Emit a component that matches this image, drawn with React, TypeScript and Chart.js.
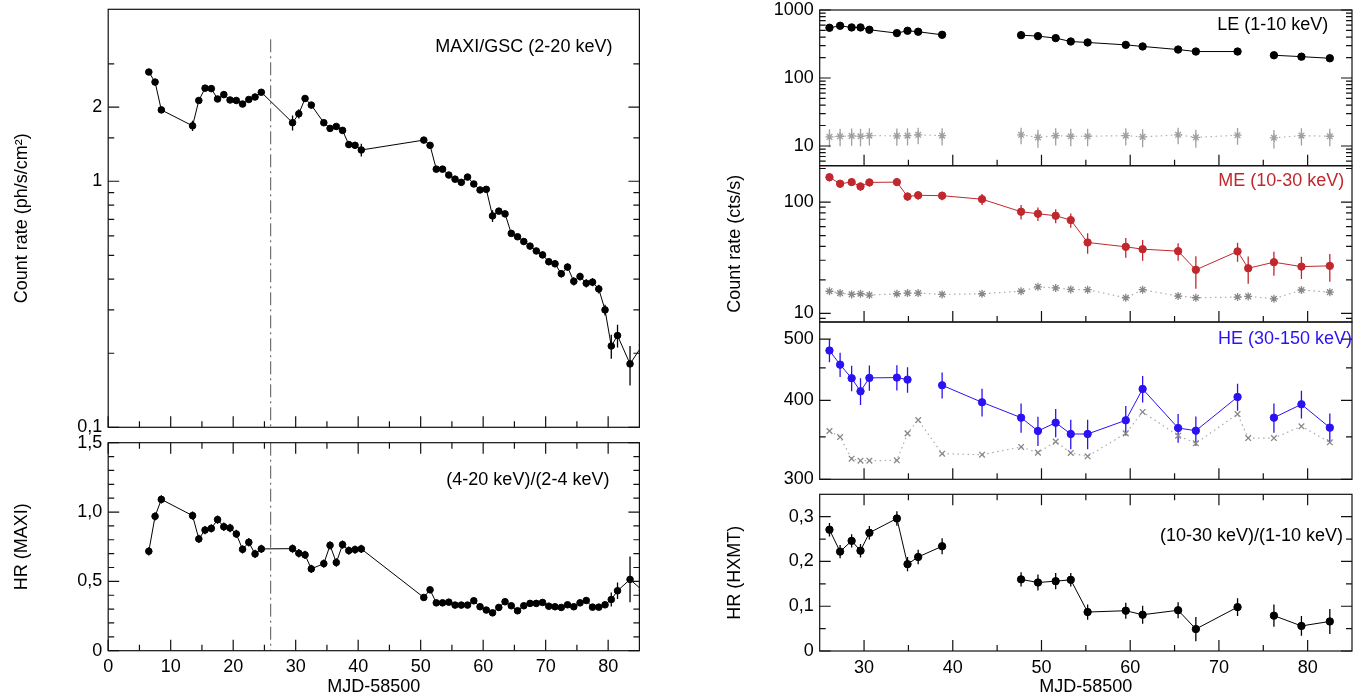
import React, { useEffect, useRef } from "react";
import { Chart, registerables } from "chart.js";

Chart.register(...registerables);

const FONT = "'Liberation Sans', Arial, Helvetica, sans-serif";
Chart.defaults.font.family = FONT;
Chart.defaults.font.size = 18;
Chart.defaults.color = "#000";

// ===== MAXI/GSC (left column) =====
const maxiDays = [6.5, 7.5, 8.5, 13.5, 14.5, 15.5, 16.5, 17.5, 18.5, 19.5, 20.5, 21.5, 22.5, 23.5, 24.5,
  29.5, 30.5, 31.5, 32.5, 34.5, 35.5, 36.5, 37.5, 38.5, 39.5, 40.5,
  50.5, 51.5, 52.5, 53.5, 54.5, 55.5, 56.5, 57.5, 58.5, 59.5, 60.5, 61.5, 62.5, 63.5, 64.5, 65.5,
  66.5, 67.5, 68.5, 69.5, 70.5, 71.5, 72.5, 73.5, 74.5, 75.5, 76.5, 77.5, 78.5, 79.5, 80.5, 81.5,
  83.5, 85.5];
const maxiRate = [2.78, 2.53, 1.95, 1.68, 2.13, 2.39, 2.38, 2.16, 2.25, 2.14, 2.13, 2.06, 2.15, 2.20, 2.30,
  1.73, 1.88, 2.17, 2.04, 1.73, 1.64, 1.67, 1.61, 1.41, 1.40, 1.34,
  1.47, 1.40, 1.12, 1.12, 1.06, 1.02, 0.99, 1.04, 0.975, 0.922, 0.927, 0.723, 0.756, 0.737, 0.614, 0.595,
  0.569, 0.545, 0.521, 0.502, 0.471, 0.462, 0.421, 0.448, 0.392, 0.410, 0.385, 0.389, 0.365, 0.300, 0.214, 0.236,
  0.181, 0.216];
const maxiRateErr = [0.05, 0.05, 0.04, 0.08, 0.05, 0.05, 0.05, 0.05, 0.05, 0.05, 0.05, 0.05, 0.05, 0.05, 0.06,
  0.12, 0.08, 0.06, 0.05, 0.04, 0.04, 0.04, 0.04, 0.04, 0.04, 0.08,
  0.03, 0.03, 0.02, 0.02, 0.02, 0.02, 0.02, 0.02, 0.02, 0.02, 0.02, 0.04, 0.02, 0.02, 0.015, 0.015,
  0.015, 0.015, 0.015, 0.015, 0.015, 0.015, 0.015, 0.015, 0.015, 0.015, 0.015, 0.015, 0.015, 0.015, 0.024, 0.025,
  0.033, 0.03];
const maxiHR = [0.717, 0.969, 1.091, 0.974, 0.806, 0.870, 0.882, 0.945, 0.894, 0.885, 0.842, 0.731, 0.782, 0.698, 0.734,
  0.736, 0.703, 0.691, 0.590, 0.628, 0.760, 0.636, 0.765, 0.722, 0.729, 0.734,
  0.384, 0.439, 0.345, 0.345, 0.350, 0.329, 0.329, 0.329, 0.360, 0.317, 0.293, 0.273, 0.312, 0.353, 0.324, 0.288,
  0.324, 0.341, 0.341, 0.348, 0.321, 0.317, 0.312, 0.331, 0.317, 0.345, 0.362, 0.314, 0.314, 0.331, 0.369, 0.432,
  0.514, 0.434];
const maxiHRErr = [0.03, 0.03, 0.03, 0.03, 0.03, 0.03, 0.03, 0.03, 0.03, 0.03, 0.03, 0.03, 0.03, 0.03, 0.03,
  0.03, 0.03, 0.03, 0.03, 0.03, 0.03, 0.03, 0.03, 0.03, 0.03, 0.03,
  0.02, 0.02, 0.02, 0.02, 0.02, 0.02, 0.02, 0.02, 0.02, 0.02, 0.02, 0.02, 0.02, 0.02, 0.02, 0.02,
  0.02, 0.02, 0.02, 0.02, 0.02, 0.02, 0.02, 0.02, 0.02, 0.02, 0.02, 0.02, 0.02, 0.02, 0.05, 0.06,
  0.165, 0.1];

// ===== Insight-HXMT (right column) =====
const hxmtDays = [26.1, 27.3, 28.6, 29.6, 30.6, 33.7, 34.9, 36.1, 38.8, 47.7, 49.6, 51.6, 53.3, 55.2,
  59.5, 61.4, 65.4, 67.4, 72.1, 76.2, 79.3, 82.5];
const leRate = [548, 586, 554, 554, 512, 457, 495, 479, 432, 427, 413, 386, 344, 333,
  307, 291, 262, 245, 245, 216, 206, 195];
const leBkg = [13.6, 13.9, 14.1, 13.9, 14.2, 14.1, 14.2, 14.6, 14.2, 14.6, 13.4, 14.2, 13.9, 13.9,
  14.2, 13.6, 14.6, 13.4, 14.4, 13.2, 14.2, 13.9];
const leBkgErr = [4, 4, 4, 4, 4, 4, 4, 4, 4, 4, 4, 4, 4, 4, 4, 4, 4, 4, 4, 4, 4, 4];
const hxmtHR = [0.271, 0.222, 0.246, 0.224, 0.264, 0.296, 0.194, 0.210, 0.234, 0.160, 0.153, 0.156, 0.159, 0.087,
  0.090, 0.081, 0.091, 0.049, 0.098, 0.079, 0.056, 0.066];
const hxmtHRErr = [0.015, 0.015, 0.015, 0.015, 0.015, 0.016, 0.016, 0.016, 0.018, 0.016, 0.018, 0.018, 0.015, 0.017,
  0.018, 0.02, 0.018, 0.027, 0.02, 0.025, 0.022, 0.028];

const meDays = [26.1, 27.3, 28.6, 29.6, 30.6, 33.7, 34.9, 36.1, 38.8, 43.3, 47.7, 49.6, 51.6, 53.3, 55.2,
  59.5, 61.4, 65.4, 67.4, 72.1, 73.3, 76.2, 79.3, 82.5];
const meRate = [167, 146, 151, 138, 150, 151, 112, 115, 114, 106, 81.8, 78.5, 75.3, 68.8, 43.3,
  39.6, 37.7, 36.2, 24.6, 36.0, 25.4, 28.8, 26.3, 26.7];
const meRateErr = [14, 12, 12, 12, 12, 11, 10, 10, 10, 12, 12, 11, 11, 10, 9,
  8, 8, 6.5, 8, 7, 7, 7, 6, 7.5];
const meBkg = [15.8, 15.2, 14.8, 15.0, 14.6, 15.0, 15.2, 15.2, 14.8, 15.0, 15.8, 17.3, 16.9, 16.4, 16.3,
  13.8, 16.3, 14.3, 13.8, 14.0, 14.2, 13.5, 16.2, 15.5];

const heDays = [26.1, 27.3, 28.6, 29.6, 30.6, 33.7, 34.9, 38.8, 43.3, 47.7, 49.6, 51.6, 53.3, 55.2,
  59.5, 61.4, 65.4, 67.4, 72.1, 76.2, 79.3, 82.5];
const heRate = [479.5, 455.5, 433.5, 413.3, 434, 434.5, 431.3, 422.5, 397.1, 375.5, 357.7, 368.7, 353.8, 353.8,
  371.9, 416.9, 361.6, 358.1, 404.9, 375.5, 394.2, 362.1];
const heRateErr = [20, 20, 20, 20, 20, 20, 20, 20, 20, 20, 19, 19, 19, 19, 20, 20, 19, 19, 20, 20, 20, 19];
const heBkgDays = [26.1, 27.3, 28.6, 29.6, 30.6, 33.7, 34.9, 36.1, 38.8, 43.3, 47.7, 49.6, 51.6, 53.3, 55.2,
  59.5, 61.4, 65.4, 67.4, 72.1, 73.3, 76.2, 79.3, 82.5];
const heBkg = [357.7, 349.9, 323.4, 321.0, 321.0, 321.5, 354.6, 372.3, 329.3, 328.1, 337.5, 330.6, 344.1, 330.2, 326.2,
  354.6, 383.4, 351.6, 342.0, 380.5, 348.6, 348.6, 363.9, 343.3];

// observation gaps (no connecting line)
const hxmtGaps = [[38.8, 47.7], [72.1, 76.2]];
const heGaps = [[34.9, 38.8], [72.1, 76.2]];

// ===== ticks =====
const maxiDayLabels = [0, 10, 20, 30, 40, 50, 60, 70, 80];
const maxiDayMinor = [5, 15, 25, 35, 45, 55, 65, 75];
const hxmtDayLabels = [30, 40, 50, 60, 70, 80];
const hxmtDayMinor = [35, 45, 55, 65, 75];
const rateLabels = [0.1, 1, 2];
const rateMinor = [0.2, 0.3, 0.4, 0.5, 0.6, 0.7, 0.8, 0.9, 1.5, 3];
const maxiHRLabels = [0, 0.5, 1.0, 1.5];
const maxiHRMinor = [0.1, 0.2, 0.3, 0.4, 0.6, 0.7, 0.8, 0.9, 1.1, 1.2, 1.3, 1.4];
const leLabels = [10, 100, 1000];
const leMinor = [6, 7, 8, 9, 20, 30, 40, 50, 60, 70, 80, 90, 200, 300, 400, 500, 600, 700, 800, 900];
const meLabels = [10, 100];
const meMinor = [9, 20, 30, 40, 50, 60, 70, 80, 90, 200];
const heLabels = [300, 400, 500];
const heMinor = [350, 450];
const hxHRLabels = [0, 0.1, 0.2, 0.3];
const hxHRMinor = [0.05, 0.15, 0.25];

const RED = "#c0282d";
const BLUE = "#2b12f2";

const comma = (v: number) => (v === 0 ? "0" : String(v).replace(".", ","));
const comma1 = (v: number) => (v === 0 ? "0" : v.toFixed(1).replace(".", ","));

function pts(xs: number[], ys: number[]) {
  return xs.map((x, i) => ({ x, y: ys[i] }));
}
function gapSegment(gaps: number[][]) {
  return {
    borderColor: (ctx: any) => {
      const a = ctx.p0.parsed.x, b = ctx.p1.parsed.x;
      return gaps.some((g) => a <= g[0] + 1e-6 && b >= g[1] - 1e-6) ? "rgba(0,0,0,0)" : undefined;
    },
  };
}
function dotSeries(xs: number[], ys: number[], color: string, r: number, errs?: number[], gaps?: number[][]) {
  return {
    data: pts(xs, ys), errors: errs, errorColor: color,
    borderColor: color, backgroundColor: color, borderWidth: 1, tension: 0,
    pointStyle: "circle", pointRadius: r, pointBackgroundColor: color, pointBorderColor: color, pointBorderWidth: 1,
    segment: gaps ? gapSegment(gaps) : undefined,
  };
}
function bkgSeries(xs: number[], ys: number[], style: string, mark: string, line: string, errs?: number[], gaps?: number[][]) {
  return {
    data: pts(xs, ys), errors: errs, errorColor: mark,
    borderColor: line, borderWidth: 1.2, borderDash: [1.5, 3.5], tension: 0,
    pointStyle: style, pointRadius: 4, pointBorderColor: mark, pointBackgroundColor: mark, pointBorderWidth: 1.3,
    segment: gaps ? gapSegment(gaps) : undefined,
  };
}

type Spec = {
  box: { x: number; y: number; w: number; h: number };
  area: { left: number; top: number; right: number; bottom: number };
  xMin: number; xMax: number; xLabels: number[]; xMinor: number[]; showX: boolean; xTitle?: string;
  yType: string; yMin: number; yMax: number; yLabels: number[]; yMinor: number[]; yFmt: (v: number) => string;
  yTitle?: string; yTitlePad?: number;
  topTicks: boolean; vline?: number; vlineStart?: number;
  texts: { text: string; dx: number; dy: number; align: "left" | "right"; color: string; fromLeft?: boolean }[];
  datasets: any[];
};

function makeFrame(p: Spec) {
  return {
    id: "frame",
    beforeDatasetsDraw(chart: any) {
      const { ctx, chartArea: a } = chart;
      const xs = chart.scales.x, ys = chart.scales.y;
      ctx.save();
      ctx.beginPath();
      ctx.rect(a.left, a.top, a.right - a.left, a.bottom - a.top);
      ctx.clip();
      if (p.vline !== undefined) {
        const px = xs.getPixelForValue(p.vline);
        ctx.strokeStyle = "#555";
        ctx.lineWidth = 1;
        ctx.setLineDash([13, 4, 2, 4]);
        ctx.beginPath();
        ctx.moveTo(px, a.top + (p.vlineStart ?? 0));
        ctx.lineTo(px, a.bottom);
        ctx.stroke();
        ctx.setLineDash([]);
      }
      chart.data.datasets.forEach((ds: any) => {
        if (!ds.errors) return;
        ctx.strokeStyle = ds.errorColor;
        ctx.lineWidth = 1.3;
        ctx.beginPath();
        ds.data.forEach((pt: any, i: number) => {
          const e = ds.errors[i];
          if (pt.y == null || e == null) return;
          const px = xs.getPixelForValue(pt.x);
          ctx.moveTo(px, ys.getPixelForValue(pt.y - e));
          ctx.lineTo(px, ys.getPixelForValue(pt.y + e));
        });
        ctx.stroke();
      });
      ctx.restore();
    },
    afterDatasetsDraw(chart: any) {
      const { ctx, chartArea: a } = chart;
      const xs = chart.scales.x, ys = chart.scales.y;
      ctx.save();
      ctx.strokeStyle = "#111";
      ctx.lineWidth = 1.2;
      ctx.setLineDash([]);
      ctx.beginPath();
      const xt = (vals: number[], len: number) =>
        vals.forEach((v) => {
          const px = xs.getPixelForValue(v);
          ctx.moveTo(px, a.bottom);
          ctx.lineTo(px, a.bottom - len);
          if (p.topTicks) {
            ctx.moveTo(px, a.top);
            ctx.lineTo(px, a.top + len);
          }
        });
      const yt = (vals: number[], len: number) =>
        vals.forEach((v) => {
          const py = ys.getPixelForValue(v);
          ctx.moveTo(a.left, py);
          ctx.lineTo(a.left + len, py);
          ctx.moveTo(a.right, py);
          ctx.lineTo(a.right - len, py);
        });
      xt(p.xLabels, 11);
      xt(p.xMinor, 6);
      yt(p.yLabels, 11);
      yt(p.yMinor, 6);
      ctx.stroke();
      ctx.strokeRect(a.left, a.top, a.right - a.left, a.bottom - a.top);
      ctx.beginPath();
      ctx.rect(a.left, a.top, a.right - a.left, a.bottom - a.top);
      ctx.clip();
      ctx.font = `18px ${FONT}`;
      ctx.textBaseline = "middle";
      p.texts.forEach((t) => {
        ctx.fillStyle = t.color;
        ctx.textAlign = t.align;
        const x = t.fromLeft ? a.left + t.dx : a.right - t.dx;
        ctx.fillText(t.text, x, a.top + t.dy);
      });
      ctx.restore();
    },
  };
}

function zeroPad(s: any) {
  s.paddingTop = 0;
  s.paddingBottom = 0;
  s.paddingLeft = 0;
  s.paddingRight = 0;
}

function buildConfig(p: Spec): any {
  const { box, area } = p;
  const padTop = area.top - box.y;
  const padRight = box.x + box.w - area.right;
  const yW = area.left - box.x;
  const xH = box.y + box.h - area.bottom;
  return {
    type: "line",
    data: { datasets: p.datasets },
    options: {
      animation: false,
      responsive: false,
      devicePixelRatio: 1,
      events: [],
      layout: { autoPadding: false, padding: { left: 0, top: padTop, right: padRight, bottom: p.showX ? 0 : xH } },
      plugins: { legend: { display: false }, tooltip: { enabled: false } },
      scales: {
        x: {
          type: "linear", min: p.xMin, max: p.xMax, display: p.showX,
          grid: { display: false, drawTicks: false }, border: { display: false },
          ticks: { padding: 6, autoSkip: false, maxRotation: 0, color: "#000", font: { size: 18 }, callback: (v: number) => String(v) },
          afterBuildTicks: (s: any) => { s.ticks = p.xLabels.map((v) => ({ value: v })); },
          afterFit: (s: any) => { s.height = p.showX ? xH : 0; zeroPad(s); },
          title: { display: !!p.xTitle, text: p.xTitle, color: "#000", font: { size: 18 }, padding: { top: 0, bottom: 2 } },
        },
        y: {
          type: p.yType, min: p.yMin, max: p.yMax,
          grid: { display: false, drawTicks: false }, border: { display: false },
          ticks: { padding: 6, autoSkip: false, color: "#000", font: { size: 18 }, callback: (v: number) => p.yFmt(v) },
          afterBuildTicks: (s: any) => { s.ticks = p.yLabels.map((v) => ({ value: v })); },
          afterFit: (s: any) => { s.width = yW; zeroPad(s); },
          title: { display: !!p.yTitle, text: p.yTitle, color: "#000", font: { size: 18 }, padding: { top: p.yTitlePad ?? 0, bottom: 0 } },
        },
      },
    },
    plugins: [makeFrame(p)],
  };
}

const LEFT = 108.2, LRIGHT = 639.4, RLEFT = 819.7, RRIGHT = 1352;

const PANELS: Spec[] = [
  {
    box: { x: 0, y: 0, w: 660, h: 440 },
    area: { left: LEFT, top: 9.3, right: LRIGHT, bottom: 427.3 },
    xMin: 0, xMax: 85, xLabels: maxiDayLabels, xMinor: maxiDayMinor, showX: false,
    yType: "logarithmic", yMin: 0.1, yMax: 5.0, yLabels: rateLabels, yMinor: rateMinor, yFmt: comma,
    yTitle: "Count rate (ph/s/cm²)", yTitlePad: 11,
    topTicks: false, vline: 26, vlineStart: 30,
    texts: [{ text: "MAXI/GSC (2-20 keV)", dx: 27, dy: 37.5, align: "right", color: "#000" }],
    datasets: [dotSeries(maxiDays, maxiRate, "#000", 3.3, maxiRateErr)],
  },
  {
    box: { x: 0, y: 428, w: 660, h: 272 },
    area: { left: LEFT, top: 442.7, right: LRIGHT, bottom: 650.7 },
    xMin: 0, xMax: 85, xLabels: maxiDayLabels, xMinor: maxiDayMinor, showX: true, xTitle: "MJD-58500",
    yType: "linear", yMin: 0, yMax: 1.5, yLabels: maxiHRLabels, yMinor: maxiHRMinor, yFmt: comma1,
    yTitle: "HR (MAXI)", yTitlePad: 11,
    topTicks: true, vline: 26, vlineStart: 0,
    texts: [{ text: "(4-20 keV)/(2-4 keV)", dx: 30, dy: 37.3, align: "right", color: "#000" }],
    datasets: [dotSeries(maxiDays, maxiHR, "#000", 3.3, maxiHRErr)],
  },
  {
    box: { x: 705, y: 0, w: 654, h: 172 },
    area: { left: RLEFT, top: 10, right: RRIGHT, bottom: 165.7 },
    xMin: 25, xMax: 85, xLabels: hxmtDayLabels, xMinor: hxmtDayMinor, showX: false,
    yType: "logarithmic", yMin: 5.13, yMax: 1000, yLabels: leLabels, yMinor: leMinor, yFmt: comma,
    topTicks: false,
    texts: [{ text: "LE (1-10 keV)", dx: 23.7, dy: 15, align: "right", color: "#000" }],
    datasets: [
      bkgSeries(hxmtDays, leBkg, "star", "#a0a0a0", "#b0b0b0", leBkgErr, hxmtGaps),
      dotSeries(hxmtDays, leRate, "#000", 3.7, undefined, hxmtGaps),
    ],
  },
  {
    box: { x: 705, y: 160, w: 654, h: 170 },
    area: { left: RLEFT, top: 165.7, right: RRIGHT, bottom: 322 },
    xMin: 25, xMax: 85, xLabels: hxmtDayLabels, xMinor: hxmtDayMinor, showX: false,
    yType: "logarithmic", yMin: 8.36, yMax: 212, yLabels: meLabels, yMinor: meMinor, yFmt: comma,
    yTitle: "Count rate (cts/s)", yTitlePad: 19,
    topTicks: false,
    texts: [{ text: "ME (10-30 keV)", dx: 7.7, dy: 15.1, align: "right", color: RED }],
    datasets: [
      bkgSeries(meDays, meBkg, "star", "#888", "#aaa"),
      dotSeries(meDays, meRate, RED, 3.7, meRateErr),
    ],
  },
  {
    box: { x: 705, y: 316, w: 654, h: 176 },
    area: { left: RLEFT, top: 322, right: RRIGHT, bottom: 479.3 },
    xMin: 25, xMax: 85, xLabels: hxmtDayLabels, xMinor: hxmtDayMinor, showX: false,
    yType: "logarithmic", yMin: 300, yMax: 532, yLabels: heLabels, yMinor: heMinor, yFmt: comma,
    topTicks: false,
    texts: [{ text: "HE (30-150 keV)", dx: 398.3, dy: 16.6, align: "left", color: BLUE, fromLeft: true }],
    datasets: [
      bkgSeries(heBkgDays, heBkg, "crossRot", "#888", "#aaa"),
      dotSeries(heDays, heRate, BLUE, 3.7, heRateErr, heGaps),
    ],
  },
  {
    box: { x: 705, y: 488, w: 654, h: 212 },
    area: { left: RLEFT, top: 494.3, right: RRIGHT, bottom: 651 },
    xMin: 25, xMax: 85, xLabels: hxmtDayLabels, xMinor: hxmtDayMinor, showX: true, xTitle: "MJD-58500",
    yType: "linear", yMin: 0, yMax: 0.35, yLabels: hxHRLabels, yMinor: hxHRMinor, yFmt: comma,
    yTitle: "HR (HXMT)", yTitlePad: 19,
    topTicks: true,
    texts: [{ text: "(10-30 keV)/(1-10 keV)", dx: 9, dy: 41.7, align: "right", color: "#000" }],
    datasets: [dotSeries(hxmtDays, hxmtHR, "#000", 3.7, hxmtHRErr, hxmtGaps)],
  },
];

function Panel({ spec }: { spec: Spec }) {
  const ref = useRef<HTMLCanvasElement | null>(null);
  useEffect(() => {
    if (!ref.current) return;
    const chart = new Chart(ref.current, buildConfig(spec));
    return () => chart.destroy();
  }, [spec]);
  const b = spec.box;
  return (
    <canvas
      ref={ref}
      width={b.w}
      height={b.h}
      style={{ position: "absolute", left: b.x, top: b.y, width: b.w, height: b.h }}
    />
  );
}

export default function App() {
  return (
    <div style={{ position: "absolute", left: 0, top: 0, width: 1359, height: 700, background: "#fff", overflow: "hidden" }}>
      {PANELS.map((p, i) => (
        <Panel key={i} spec={p} />
      ))}
    </div>
  );
}
